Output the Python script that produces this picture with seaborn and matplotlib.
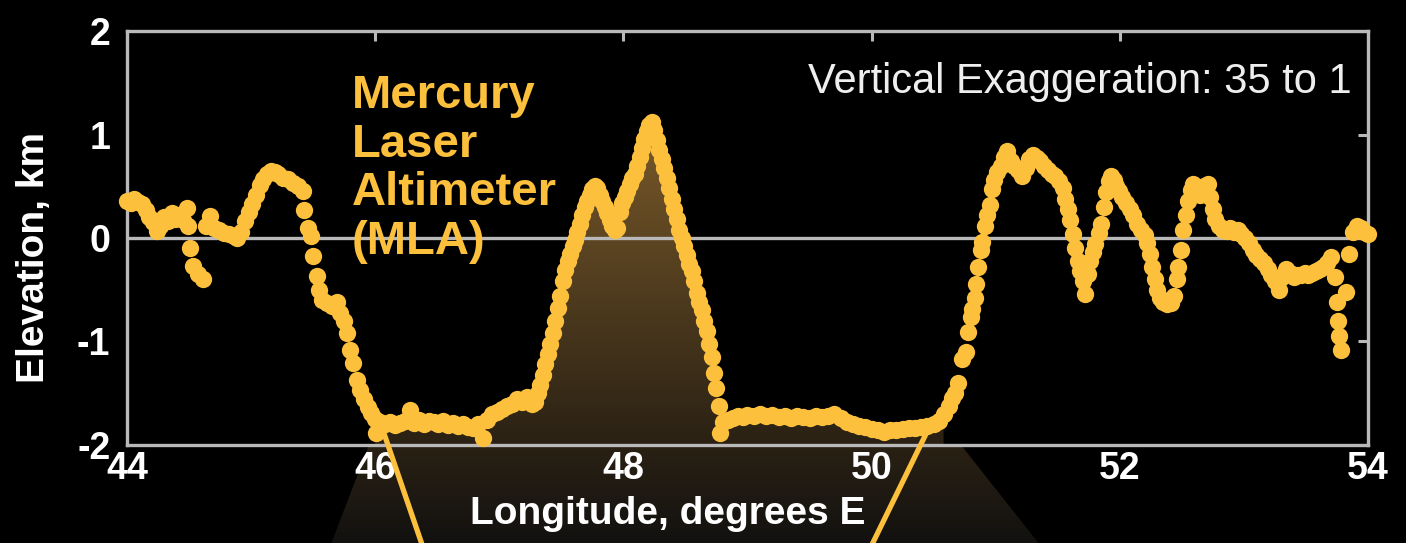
import numpy as np
import matplotlib.pyplot as plt
import pandas as pd
import seaborn as sns
from matplotlib.colors import LinearSegmentedColormap
from matplotlib.patches import PathPatch
from matplotlib.path import Path

# MLA track (longitude deg E, elevation km)
lon = [44.00, 44.03, 44.06, 44.09, 44.12, 44.15, 44.18, 44.21, 44.24, 44.27,
       44.30, 44.33, 44.36, 44.39, 44.42, 44.45, 44.48, 44.49, 44.51, 44.53,
       44.57, 44.61, 44.64, 44.67, 44.70, 44.74, 44.78, 44.82, 44.86, 44.89,
       44.92, 44.95, 44.98, 45.01, 45.04, 45.07, 45.10, 45.13, 45.16, 45.19,
       45.22, 45.26, 45.30, 45.34, 45.38, 45.42, 45.43, 45.46, 45.48, 45.50,
       45.53, 45.55, 45.57, 45.61, 45.65, 45.69, 45.72, 45.75, 45.77, 45.80,
       45.82, 45.85, 45.88, 45.91, 45.94, 45.97, 46.00, 46.01, 46.04, 46.08,
       46.12, 46.16, 46.20, 46.24, 46.28, 46.31, 46.35, 46.39, 46.43, 46.47,
       46.51, 46.55, 46.59, 46.63, 46.67, 46.71, 46.75, 46.79, 46.83, 46.87,
       46.90, 46.94, 46.98, 47.02, 47.06, 47.10, 47.14, 47.18, 47.22, 47.26,
       47.29, 47.31, 47.33, 47.35, 47.37, 47.39, 47.41, 47.43, 47.45, 47.47,
       47.49, 47.51, 47.53, 47.55, 47.57, 47.59, 47.61, 47.63, 47.65, 47.67,
       47.69, 47.71, 47.73, 47.75, 47.77, 47.79, 47.81, 47.83, 47.85, 47.87,
       47.89, 47.91, 47.93, 47.95, 47.97, 47.99, 48.01, 48.03, 48.05, 48.07,
       48.09, 48.11, 48.13, 48.15, 48.17, 48.19, 48.21, 48.23, 48.25, 48.27,
       48.29, 48.31, 48.33, 48.35, 48.37, 48.39, 48.41, 48.43, 48.45, 48.47,
       48.49, 48.51, 48.53, 48.55, 48.57, 48.59, 48.61, 48.63, 48.65, 48.67,
       48.69, 48.71, 48.73, 48.75, 48.77, 48.78, 48.80, 48.84, 48.88, 48.92,
       48.96, 49.00, 49.05, 49.10, 49.15, 49.20, 49.25, 49.30, 49.35, 49.40,
       49.45, 49.50, 49.55, 49.60, 49.65, 49.70, 49.75, 49.80, 49.85, 49.90,
       49.95, 50.00, 50.05, 50.10, 50.15, 50.20, 50.25, 50.30, 50.35, 50.40,
       50.45, 50.50, 50.54, 50.58, 50.62, 50.65, 50.67, 50.70, 50.73, 50.76,
       50.78, 50.80, 50.81, 50.83, 50.84, 50.86, 50.88, 50.89, 50.91, 50.93,
       50.95, 50.97, 50.99, 51.01, 51.04, 51.07, 51.09, 51.12, 51.15, 51.18,
       51.21, 51.24, 51.27, 51.30, 51.33, 51.36, 51.39, 51.42, 51.45, 51.48,
       51.51, 51.54, 51.56, 51.58, 51.60, 51.62, 51.64, 51.66, 51.68, 51.70,
       51.72, 51.74, 51.76, 51.78, 51.80, 51.83, 51.85, 51.87, 51.89, 51.91,
       51.93, 51.95, 51.97, 51.99, 52.02, 52.05, 52.08, 52.11, 52.14, 52.17,
       52.20, 52.22, 52.24, 52.26, 52.28, 52.30, 52.32, 52.35, 52.38, 52.41,
       52.44, 52.46, 52.47, 52.49, 52.51, 52.53, 52.55, 52.57, 52.59, 52.62,
       52.65, 52.68, 52.71, 52.73, 52.75, 52.77, 52.80, 52.83, 52.86, 52.89,
       52.92, 52.95, 52.98, 53.01, 53.04, 53.07, 53.10, 53.13, 53.16, 53.19,
       53.22, 53.25, 53.28, 53.31, 53.34, 53.37, 53.40, 53.43, 53.46, 53.49,
       53.52, 53.55, 53.58, 53.61, 53.64, 53.67, 53.70, 53.73, 53.75, 53.76,
       53.77, 53.78, 53.82, 53.85, 53.88, 53.91, 53.94, 53.97, 54.00]

elev = [0.36, 0.34, 0.38, 0.35, 0.33, 0.27, 0.20, 0.15, 0.07, 0.12,
        0.20, 0.16, 0.24, 0.18, 0.22, 0.17, 0.29, 0.12, -0.10, -0.27,
        -0.35, -0.40, 0.12, 0.21, 0.10, 0.08, 0.05, 0.04, 0.02, 0.00,
        0.06, 0.16, 0.25, 0.33, 0.42, 0.51, 0.57, 0.62, 0.65, 0.64,
        0.62, 0.58, 0.57, 0.53, 0.50, 0.45, 0.27, 0.10, 0.02, -0.17,
        -0.37, -0.50, -0.60, -0.63, -0.66, -0.62, -0.72, -0.80, -0.92, -1.08,
        -1.21, -1.37, -1.47, -1.56, -1.63, -1.69, -1.75, -1.88, -1.78, -1.80,
        -1.78, -1.81, -1.79, -1.77, -1.66, -1.79, -1.76, -1.80, -1.77, -1.78,
        -1.80, -1.77, -1.81, -1.79, -1.82, -1.80, -1.83, -1.84, -1.80, -1.93,
        -1.76, -1.70, -1.68, -1.65, -1.62, -1.60, -1.56, -1.58, -1.54, -1.60,
        -1.58, -1.50, -1.42, -1.32, -1.22, -1.12, -1.02, -0.92, -0.80, -0.68,
        -0.56, -0.42, -0.31, -0.22, -0.15, -0.08, -0.02, 0.06, 0.14, 0.22,
        0.30, 0.36, 0.42, 0.47, 0.50, 0.48, 0.42, 0.36, 0.30, 0.24,
        0.17, 0.12, 0.08, 0.10, 0.25, 0.34, 0.40, 0.45, 0.52, 0.58,
        0.62, 0.70, 0.78, 0.87, 0.96, 1.03, 1.09, 1.12, 1.04, 0.95,
        0.85, 0.76, 0.68, 0.58, 0.48, 0.38, 0.28, 0.18, 0.08, 0.00,
        -0.08, -0.16, -0.25, -0.32, -0.42, -0.53, -0.62, -0.70, -0.80, -0.90,
        -1.02, -1.15, -1.30, -1.45, -1.62, -1.88, -1.78, -1.76, -1.74, -1.72,
        -1.73, -1.71, -1.72, -1.70, -1.72, -1.71, -1.73, -1.72, -1.74, -1.72,
        -1.73, -1.74, -1.72, -1.73, -1.72, -1.70, -1.74, -1.78, -1.80, -1.82,
        -1.83, -1.85, -1.86, -1.87, -1.86, -1.86, -1.85, -1.84, -1.84, -1.83,
        -1.82, -1.80, -1.77, -1.70, -1.62, -1.55, -1.50, -1.40, -1.17, -1.10,
        -0.91, -0.76, -0.69, -0.58, -0.44, -0.28, -0.12, -0.04, 0.12, 0.22,
        0.32, 0.47, 0.56, 0.64, 0.70, 0.78, 0.84, 0.74, 0.70, 0.66,
        0.60, 0.68, 0.76, 0.80, 0.77, 0.74, 0.70, 0.66, 0.62, 0.60,
        0.55, 0.48, 0.38, 0.28, 0.17, 0.04, -0.10, -0.22, -0.32, -0.42,
        -0.54, -0.35, -0.22, -0.14, -0.06, 0.05, 0.14, 0.30, 0.44, 0.55,
        0.60, 0.56, 0.50, 0.45, 0.40, 0.34, 0.28, 0.22, 0.14, 0.08,
        0.03, -0.05, -0.15, -0.28, -0.40, -0.50, -0.58, -0.62, -0.64, -0.63,
        -0.56, -0.40, -0.28, -0.12, 0.08, 0.22, 0.36, 0.46, 0.52, 0.46,
        0.42, 0.50, 0.52, 0.40, 0.28, 0.18, 0.12, 0.08, 0.07, 0.10,
        0.06, 0.08, 0.04, 0.00, -0.05, -0.12, -0.16, -0.20, -0.24, -0.30,
        -0.36, -0.42, -0.50, -0.38, -0.30, -0.34, -0.38, -0.36, -0.36, -0.34,
        -0.36, -0.34, -0.32, -0.30, -0.28, -0.24, -0.18, -0.38, -0.62, -0.80,
        -0.95, -1.08, -0.52, -0.15, 0.06, 0.12, 0.10, 0.06, 0.04]

x_ticks = [44, 46, 48, 50, 52, 54]
y_ticks = [-2, -1, 0, 1, 2]
y_tick_labels = ['-2', '-1', '0', '1', '2']
instrument = 'Mercury\nLaser\nAltimeter\n(MLA)'
exaggeration = 'Vertical Exaggeration: 35 to 1'

# section of the track inside the view cone, the cone below the axes,
# and the two guide lines running down out of the plot
cone_lon = [46.0, 50.6]
cone_base_lon = [45.95, 50.72, 51.36, 45.64, 45.95]
cone_base_elev = [-2.0, -2.0, -2.97, -2.97, -2.0]
guide_left = ([46.04, 46.38], [-1.78, -2.97])
guide_right = ([50.48, 50.00], [-1.79, -2.97])

gold = '#fcc03c'
grey = '#b9b9b9'

sns.set_theme(style='dark', rc={'figure.facecolor': 'black',
                                'axes.facecolor': 'black',
                                'savefig.facecolor': 'black'})
plt.rcParams['font.family'] = ['Liberation Sans', 'DejaVu Sans']

df = pd.DataFrame({'lon': lon, 'elev': elev})

fig = plt.figure(figsize=(14.06, 5.43), dpi=100)
ax = fig.add_axes([0.0903, 0.1805, 0.8827, 0.7624])

# brown gradient: under the central section and on down out of the axes
sel = df[(df.lon >= cone_lon[0]) & (df.lon <= cone_lon[1])]
under = ax.fill_between(sel.lon, sel.elev, -2, color='none', lw=0)
base = Path(np.column_stack([cone_base_lon, cone_base_elev]), closed=True)
clip_path = Path.make_compound_path(under.get_paths()[0], base)

cone_cmap = LinearSegmentedColormap.from_list(
    'cone', [(0, '#121110'), (0.235, '#2a2114'), (1, '#7a5a2a')])
grad = np.linspace(0, 1, 256).reshape(-1, 1)
im = ax.imshow(grad, extent=[45.5, 51.5, -2.97, 1.15], origin='lower',
               cmap=cone_cmap, aspect='auto', zorder=0.5)
im.set_clip_path(PathPatch(clip_path, transform=ax.transData))
im.set_clip_box(fig.bbox)

ax.axhline(0, color=grey, lw=2.4, zorder=2)

ax.plot(*guide_left, color=gold, lw=3.8, clip_on=False, zorder=2.8)
ax.plot(*guide_right, color=gold, lw=3.8, clip_on=False, zorder=2.8)

sns.scatterplot(data=df, x='lon', y='elev', ax=ax, color=gold, s=155,
                linewidth=0, zorder=3, legend=False, clip_on=False)

ax.set_xlim(44, 54)
ax.set_ylim(-2, 2)
ax.set_xticks(x_ticks)
ax.set_yticks(y_ticks, y_tick_labels)
ax.grid(False)
ax.tick_params(direction='in', length=7, width=2.2, color=grey,
               top=True, right=True, labelcolor='white', labelsize=27)
ax.tick_params(axis='x', pad=4)
ax.tick_params(axis='y', pad=12)
for lbl in ax.get_xticklabels() + ax.get_yticklabels():
    lbl.set_fontweight('bold')
for s in ax.spines.values():
    s.set_visible(True)
    s.set_color(grey)
    s.set_linewidth(2.4)

ax.set_xlabel('Longitude, degrees E', color='white', fontsize=28,
              fontweight='bold')
ax.xaxis.set_label_coords(0.4355, -0.123)
ax.set_ylabel('Elevation, km', color='white', fontsize=28,
              fontweight='bold', va='center')
ax.yaxis.set_label_coords(-0.075, 0.452)

ax.text(0.181, 0.895, instrument, transform=ax.transAxes, color=gold,
        fontsize=34, fontweight='bold', ha='left', va='top', linespacing=1.13)
ax.text(0.987, 0.850, exaggeration, transform=ax.transAxes, color='#eeeeee',
        fontsize=30, ha='right', va='baseline')

fig.savefig('out.png', dpi=100, facecolor='black')
